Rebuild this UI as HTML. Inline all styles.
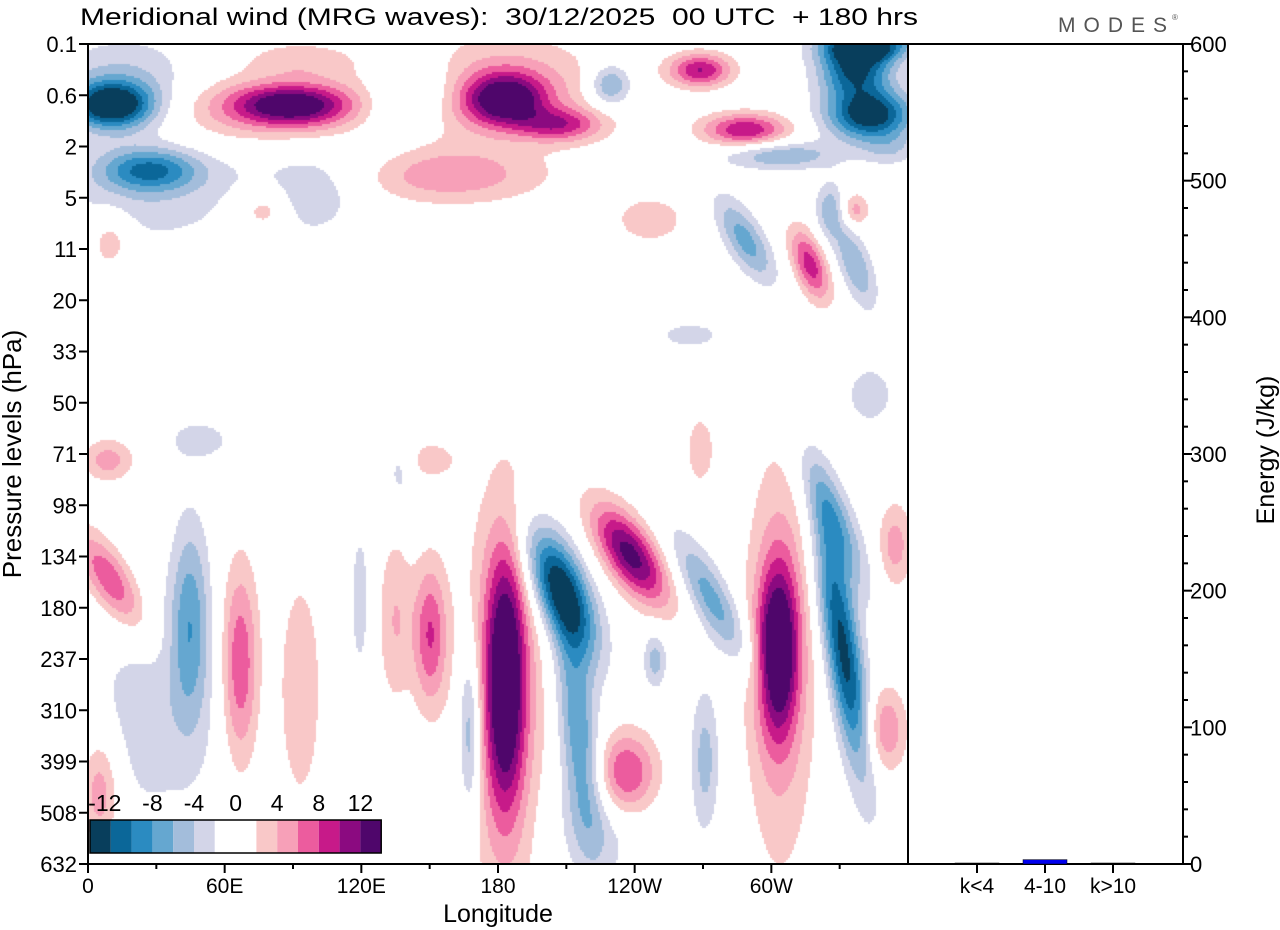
<!DOCTYPE html>
<html><head><meta charset="utf-8"><style>
body{margin:0;background:#fff;width:1280px;height:930px;overflow:hidden;font-family:"Liberation Sans",sans-serif}
#wrap{position:relative;width:1280px;height:930px}
canvas{position:absolute;left:88px;top:44px}
svg{position:absolute;left:0;top:0}
text{white-space:pre}
</style></head><body>
<div id="wrap">
<canvas id="cv" width="820" height="820"></canvas>
<svg id="sv" width="1280" height="930"></svg>
</div>
<script>
// Field data: wave anomaly centres (longitude deg, level index, m/s amplitude, width deg, height levels, tilt deg/level)
const blobLon=[183.2,183.2,207.4,215.3,238.2,236.0,274.0,270.9,303.0,303.9,331.5,328.0,350.0,354.4,167.7,150.2,134.8,9.7,44.8,66.8,27.2,5.3,93.2,8.8,119.5,249.0,49.2,150.2,136.9,10.5,16.2,88.7,85.5,183.2,180.9,140.8,27.2,154.5,207.4,229.2,268.8,288.6,341.4,343.3,336.7,303.9,288.6,317.1,336.7,336.7,325.7,77.7,97.6,352.2,343.3,264.4,9.7,246.7,268.8,27.2,106.0,93.0,225.0];
const blobLev=[12.41,12.61,10.65,13.39,9.97,14.26,10.85,13.97,11.82,12.02,11.82,9.29,13.39,9.78,13.39,11.53,11.24,10.46,11.24,12.12,13.19,14.56,12.61,8.12,10.85,12.02,7.73,8.12,8.31,1.19,0.90,1.19,1.29,1.09,0.80,1.09,2.46,2.56,1.58,0.80,0.51,1.68,0.02,1.39,0.51,2.17,3.83,4.31,4.31,3.24,3.24,3.24,3.14,2.07,6.85,5.68,3.83,3.43,7.92,3.04,2.46,0.30,15.2];
const blobAmp=[13,5,-14,-8,13,9,-7,-5,13,5,-13,-6,6,5,-7,8,4,8,-7,8,-3,6,4,5,-3,-5,-3,3,-3,-14,-5,11,5,12,5,-6,-9,6,8,-7,10,10,-14,-14,-12,-6,-7,9,-6,5,-5,4,-3,-3,-3,-3,4,3,3,-3,-3,3,-3];
const blobW=[6.1,13.2,8.8,6.1,8.8,9.7,7.0,4.4,6.1,11.0,5.7,6.6,6.6,5.3,3.5,5.3,5.3,7.5,6.1,5.7,22.0,6.1,6.6,7.9,3.5,3.5,11.0,8.8,4.4,12.3,22.0,17.6,45.0,12.3,30.7,15.0,15.4,30.7,13.2,6.6,9.7,13.2,13.2,13.2,11.0,17.6,6.6,5.3,5.3,4.4,4.4,8.8,11.0,8.8,8.8,11.0,6.6,13.2,5.3,30.7,26.0,17.0,15.0];
const blobH=[1.76,2.93,0.88,1.56,0.68,0.59,0.88,0.98,1.17,2.93,1.76,0.98,0.59,0.59,1.17,0.98,1.17,0.68,1.37,1.37,1.56,0.78,1.56,0.29,1.17,0.39,0.29,0.29,0.49,0.31,0.68,0.27,0.49,0.35,0.68,0.50,0.29,0.39,0.23,0.29,0.23,0.23,0.23,0.35,0.39,0.20,0.59,0.49,0.59,0.23,0.39,0.29,0.39,0.23,0.49,0.20,0.39,0.39,0.59,0.68,0.49,0.25,0.8];
const blobTilt=[0,0,7.9,2.2,11.2,0,11.2,0,0,0,3.4,9.0,0,0,0,0,0,11.2,0,0,0,0,0,0,0,0,0,0,0,0,0,0,0,0,0,-8,0,0,0,0,0,0,0,0,0,0,11.2,6.7,6.7,0,0,0,0,0,0,0,0,0,0,0,0,0,0];
const levelLabels=["0.1","0.6","2","5","11","20","33","50","71","98","134","180","237","310","399","508","632"];
const lonTicks=[0,60,120,180,240,300];
const lonLabels=["0","60E","120E","180","120W","60W"];
const energyTicks=[0,100,200,300,400,500,600];
const bandLabels=["k<4","4-10","k>10"];
const bandEnergy=[0.3,3.2,0.1];
const cbarLabels=["-12","-8","-4","0","4","8","12"];
const binEdges=[-12,-10,-8,-6,-4,-2,2,4,6,8,10,12];
const binColors=["#083e5c","#0b6799","#2b8bc1","#65a7d0","#a3bddb","#d3d5e8","#ffffff","#f9c8c8","#f7a0b8","#ec5c9e","#c71a89","#8b0a80","#4f066b"];
const cbarColors=["#083e5c","#0b6799","#2b8bc1","#65a7d0","#a3bddb","#d3d5e8","#ffffff","#ffffff","#f9c8c8","#f7a0b8","#ec5c9e","#c71a89","#8b0a80","#4f066b"];

const X0=88,X1=908,Y0=44,Y1=864,PX1=1183;
const xS=l=>X0+l/360*(X1-X0);
const yS=i=>Y0+i/16*(Y1-Y0);
const eS=e=>Y1-e/600*(Y1-Y0);

const cv=document.getElementById('cv'),cx=cv.getContext('2d');
const st=2;
for(let py=0;py<820;py+=st){
  const lev=(py+st/2)/820*16;
  for(let px=0;px<820;px+=st){
    const lon=(px+st/2)/820*360;
    let v=0;
    for(let k=0;k<blobLon.length;k++){
      const dy=(lev-blobLev[k])/blobH[k];
      if(Math.abs(dy)>4)continue;
      const dx=(lon-(blobLon[k]+blobTilt[k]*(lev-blobLev[k])))/blobW[k];
      if(Math.abs(dx)>4)continue;
      v+=blobAmp[k]*Math.exp(-0.5*(dx*dx+dy*dy));
    }
    let b=0;while(b<binEdges.length&&v>=binEdges[b])b++;
    if(b!==6){cx.fillStyle=binColors[b];cx.fillRect(px,py,st,st);}
  }
}

const sv=document.getElementById('sv');const NS='http://www.w3.org/2000/svg';
function mk(t,a,txt){const e=document.createElementNS(NS,t);for(const k in a)e.setAttribute(k,a[k]);if(txt!==undefined)e.textContent=txt;sv.appendChild(e);return e;}
let e;
e=mk('text',{x:80,y:25,'font-size':24,textLength:838,lengthAdjust:'spacingAndGlyphs'},'Meridional wind (MRG waves):  30/12/2025  00 UTC  + 180 hrs');


e=mk('text',{x:1058,y:32,'font-size':21,fill:'#555','letter-spacing':'8'},'MODES');


mk('text',{x:1172,y:20,'font-size':8,fill:'#555'},'®');
e=mk('rect',{x:X0,y:Y0,width:X1-X0,height:Y1-Y0,fill:'none',stroke:'#000','stroke-width':2});


e=mk('rect',{x:X1,y:Y0,width:PX1-X1,height:Y1-Y0,fill:'none',stroke:'#000','stroke-width':2});


levelLabels.forEach((s,i)=>{const y=yS(i);
 mk('line',{x1:X0-9,x2:X0,y1:y,y2:y,stroke:'#000','stroke-width':2});
 const t=mk('text',{x:77,y:y+8,'font-size':22,'text-anchor':'end'},s);
 
 
});
e=mk('text',{x:0,y:0,'font-size':26,'text-anchor':'middle',transform:'translate(21,454) rotate(-90)'},'Pressure levels (hPa)');


for(let l=0;l<360;l+=30){const x=xS(l);mk('line',{x1:x,x2:x,y1:Y1,y2:Y1+(l%60?5:9),stroke:'#000','stroke-width':2});}
lonTicks.forEach((l,i)=>{const t=mk('text',{x:xS(l),y:893,'font-size':21,'text-anchor':'middle'},lonLabels[i]);
 
 });
e=mk('text',{x:498,y:922,'font-size':25,'text-anchor':'middle'},'Longitude');


for(let v=0;v<=600;v+=20){const y=eS(v);mk('line',{x1:PX1,x2:PX1+(v%100?5:9),y1:y,y2:y,stroke:'#000','stroke-width':2});}
energyTicks.forEach(v=>{const t=mk('text',{x:1190,y:eS(v)+8,'font-size':22},String(v));
 
 });
e=mk('text',{x:0,y:0,'font-size':25,'text-anchor':'middle',transform:'translate(1274,450) rotate(-90)'},'Energy (J/kg)');


bandLabels.forEach((s,i)=>{const xc=977+i*68;
 mk('line',{x1:xc,x2:xc,y1:Y1,y2:Y1+9,stroke:'#000','stroke-width':2});
 const t=mk('text',{x:xc,y:893,'font-size':21,'text-anchor':'middle'},s);
 
 
 const h=Math.max(1,Y1-eS(bandEnergy[i]));
 const b=mk('rect',{x:xc-22,y:Y1-h,width:44,height:h,fill:i===1?'#0000ee':'#000',stroke:'#000','stroke-width':0.5});
 
 
});
const cbx=90,cby=820,cw=20.8,ch=33;
cbarColors.forEach((c,i)=>{const r=mk('rect',{x:cbx+i*cw,y:cby,width:cw,height:ch,fill:c});
 
 });
e=mk('rect',{x:cbx,y:cby,width:cw*14,height:ch,fill:'none',stroke:'#000','stroke-width':1.5});


cbarLabels.forEach((s,i)=>{const t=mk('text',{x:cbx+cw*(1+2*i)+(i===0?-6:0),y:811,'font-size':23,'text-anchor':'middle'},s);
 
 });
</script>
</body></html>
